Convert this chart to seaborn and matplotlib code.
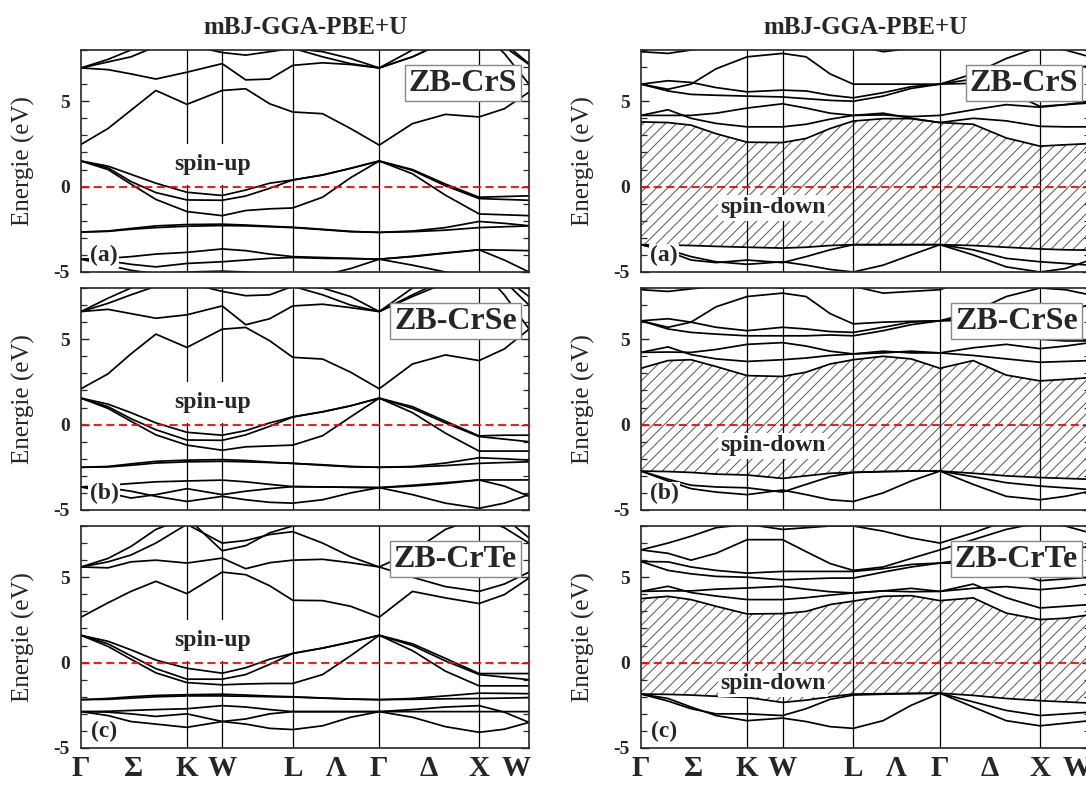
import matplotlib
matplotlib.use("Agg")
import matplotlib.pyplot as plt
from matplotlib.ticker import MultipleLocator
import numpy as np
import pandas as pd
import seaborn as sns

# ---------------- data ----------------
K_GRID = [0.0, 0.27, 0.50, 0.75, 1.0607, 1.4142, 1.65, 1.89, 2.1213,
          2.42, 2.70, 2.9873, 3.32, 3.65, 3.9873, 4.24, 4.4873]
K_END = 4.4873
HSYM_POS = [1.0607, 1.4142, 2.1213, 2.9873, 3.9873]
TICK_POS = [0.0, 0.53, 1.0607, 1.4142, 2.1213, 2.554, 2.9873, 3.487, 3.9873, 4.36]
TICK_LABELS = ['Γ', 'Σ', 'K', 'W', 'L', 'Λ', 'Γ', 'Δ', 'X', 'W']
COMPOUNDS = ['ZB-CrS', 'ZB-CrSe', 'ZB-CrTe']
TAGS = ['(a)', '(b)', '(c)']
TITLE = 'mBJ-GGA-PBE+U'

CRS_UP = [
    [-4.25, -4.2, -4.1, -3.95, -3.85, -3.65, -3.75, -3.95, -4.1, -4.15, -4.2, -4.25, -4.08, -3.88, -3.7, -3.72, -3.75],
    [-4.25, -4.35, -4.55, -4.7, -4.5, -4.4, -4.3, -4.2, -4.15, -4.2, -4.22, -4.25, -4.1, -3.9, -3.7, -4.3, -5.0],
    [-4.25, -4.6, -4.9, -5.1, -5.0, -4.95, -5.0, -5.1, -5.2, -5.2, -4.8, -4.25, -4.6, -5.0, -5.3, -5.2, -5.0],
    [-2.66, -2.6, -2.45, -2.3, -2.22, -2.2, -2.25, -2.32, -2.38, -2.5, -2.62, -2.68, -2.6, -2.4, -2.04, -2.15, -2.29],
    [-2.66, -2.62, -2.5, -2.4, -2.32, -2.28, -2.3, -2.35, -2.4, -2.52, -2.64, -2.68, -2.64, -2.55, -2.4, -2.35, -2.3],
    [1.5, 1.2, 0.72, 0.2, -0.33, -0.52, -0.2, 0.2, 0.39, 0.68, 1.07, 1.5, 1.0, 0.15, -0.62, -0.58, -0.54],
    [1.5, 1.1, 0.3, -0.35, -0.78, -0.8, -0.55, -0.1, 0.39, 0.68, 1.07, 1.5, 0.95, 0.05, -0.7, -0.75, -0.8],
    [1.5, 1.0, 0.15, -0.75, -1.46, -1.7, -1.4, -1.3, -1.25, -0.62, 0.52, 1.5, 0.75, -0.5, -1.6, -1.65, -1.7],
    [2.47, 3.4, 4.47, 5.63, 4.82, 5.63, 5.73, 4.85, 4.37, 4.27, 3.4, 2.43, 3.69, 4.23, 4.08, 4.56, 5.53],
    [6.95, 6.85, 6.6, 6.3, 6.7, 7.2, 6.25, 6.3, 7.1, 7.25, 7.15, 6.95, 7.6, 8.5, 9.0, 8.4, 7.2],
    [6.95, 7.3, 7.6, 8.2, 8.3, 7.85, 7.7, 7.9, 8.1, 7.6, 7.2, 6.95, 7.6, 8.5, 9.0, 8.2, 7.15],
    [6.95, 7.45, 8.0, 8.6, 9.0, 9.0, 9.0, 8.6, 8.1, 7.9, 7.5, 6.95, 8.0, 8.8, 9.2, 7.8, 6.0],
]

CRSE_UP = [
    [-3.65, -3.55, -3.45, -3.35, -3.3, -3.25, -3.35, -3.5, -3.63, -3.65, -3.67, -3.69, -3.55, -3.4, -3.24, -3.24, -3.24],
    [-3.65, -3.7, -3.9, -4.2, -4.5, -4.2, -4.4, -4.55, -4.6, -4.4, -4.0, -3.69, -4.1, -4.6, -4.9, -4.6, -4.1],
    [-3.65, -4.0, -4.3, -4.1, -3.75, -4.1, -3.9, -3.75, -3.63, -3.65, -3.67, -3.69, -3.6, -3.45, -3.24, -3.6, -4.2],
    [-2.5, -2.45, -2.3, -2.15, -2.08, -2.05, -2.1, -2.2, -2.27, -2.35, -2.45, -2.5, -2.45, -2.25, -1.94, -2.0, -2.08],
    [-2.5, -2.48, -2.38, -2.25, -2.18, -2.15, -2.18, -2.22, -2.27, -2.38, -2.47, -2.5, -2.48, -2.4, -2.27, -2.22, -2.18],
    [1.55, 1.2, 0.7, 0.1, -0.45, -0.62, -0.35, 0.1, 0.45, 0.75, 1.1, 1.55, 1.05, 0.2, -0.66, -0.62, -0.62],
    [1.55, 1.05, 0.35, -0.3, -0.9, -0.92, -0.6, -0.1, 0.45, 0.75, 1.1, 1.55, 0.95, 0.1, -0.7, -0.85, -1.0],
    [1.55, 0.95, 0.2, -0.6, -1.2, -1.5, -1.3, -1.25, -1.2, -0.65, 0.45, 1.55, 0.7, -0.5, -1.55, -1.55, -1.55],
    [2.1, 2.97, 4.14, 5.3, 4.52, 5.59, 5.69, 4.91, 3.94, 3.84, 3.07, 2.1, 3.55, 4.08, 3.75, 4.43, 5.59],
    [6.62, 6.75, 6.5, 6.23, 6.43, 6.95, 5.85, 6.2, 6.95, 7.05, 6.85, 6.62, 7.6, 8.5, 9.0, 8.4, 7.0],
    [6.62, 7.1, 7.6, 8.1, 8.3, 7.8, 7.55, 7.6, 8.1, 7.6, 7.0, 6.62, 7.5, 8.3, 9.0, 8.6, 7.5],
    [6.62, 7.4, 8.0, 8.6, 9.0, 9.0, 9.0, 8.6, 8.2, 8.0, 7.5, 6.62, 8.0, 8.8, 9.2, 7.6, 5.6],
]

CRTE_UP = [
    [-2.87, -2.85, -2.8, -2.75, -2.7, -2.52, -2.6, -2.75, -2.87, -2.87, -2.87, -2.87, -2.75, -2.6, -2.52, -2.9, -3.5],
    [-2.87, -2.9, -3.0, -3.15, -3.0, -3.45, -3.3, -3.0, -2.87, -2.87, -2.87, -2.87, -2.87, -2.87, -2.87, -2.87, -2.87],
    [-2.87, -3.1, -3.45, -3.6, -3.79, -3.45, -3.6, -3.85, -3.92, -3.7, -3.2, -2.87, -3.2, -3.75, -4.08, -3.9, -3.5],
    [-2.17, -2.1, -2.0, -1.92, -1.88, -1.85, -1.9, -1.96, -2.0, -2.07, -2.13, -2.17, -2.1, -1.95, -1.79, -1.8, -1.82],
    [-2.17, -2.15, -2.08, -2.0, -1.95, -1.95, -1.97, -2.0, -2.02, -2.08, -2.14, -2.17, -2.15, -2.12, -2.1, -2.08, -2.05],
    [1.6, 1.25, 0.75, 0.15, -0.33, -0.62, -0.3, 0.2, 0.54, 0.85, 1.2, 1.6, 1.1, 0.25, -0.64, -0.64, -0.64],
    [1.6, 1.1, 0.4, -0.35, -0.97, -0.97, -0.7, -0.1, 0.54, 0.85, 1.2, 1.6, 1.0, 0.1, -0.7, -0.85, -1.0],
    [1.6, 0.95, 0.2, -0.6, -1.17, -1.3, -1.25, -1.22, -1.22, -0.7, 0.4, 1.6, 0.7, -0.5, -1.36, -1.36, -1.36],
    [2.66, 3.5, 4.17, 4.76, 4.04, 5.3, 5.15, 4.5, 3.65, 3.63, 3.3, 2.66, 4.17, 3.79, 3.46, 3.98, 4.95],
    [5.6, 5.55, 5.9, 6.0, 5.83, 6.12, 5.5, 5.85, 6.0, 6.05, 5.85, 5.6, 5.0, 4.45, 4.17, 4.6, 5.3],
    [5.6, 5.9, 6.3, 7.0, 8.1, 7.0, 7.15, 7.5, 7.67, 7.0, 6.2, 5.6, 6.5, 7.8, 8.5, 7.9, 7.0],
    [5.6, 6.1, 6.8, 7.8, 8.5, 6.55, 6.85, 7.6, 8.0, 8.3, 8.6, 8.8, 8.6, 8.5, 9.0, 8.5, 7.3],
]

# spin-down: valence-band maximum and conduction-band minimum bound the gap
CRS_DN_VBM = [-3.4, -3.42, -3.45, -3.5, -3.55, -3.6, -3.55, -3.45, -3.4, -3.4, -3.4, -3.4, -3.45, -3.55, -3.65, -3.7, -3.72]
CRS_DN_CBM = [3.79, 3.75, 3.6, 3.1, 2.6, 2.58, 2.82, 3.4, 3.84, 3.98, 3.98, 3.75, 3.65, 2.85, 2.37, 2.45, 2.52]
CRS_DN = [
    [-3.4, -3.7, -4.1, -4.4, -4.55, -4.4, -4.6, -4.85, -5.0, -4.6, -4.0, -3.4, -4.0, -4.7, -5.0, -4.8, -4.3],
    [-3.4, -3.8, -4.3, -4.45, -4.3, -4.45, -4.1, -3.7, -3.4, -3.4, -3.4, -3.4, -3.7, -4.2, -4.4, -4.5, -4.6],
    [4.17, 4.5, 4.0, 3.7, 3.5, 3.5, 3.65, 3.95, 4.17, 4.3, 4.0, 3.75, 4.0, 3.85, 3.53, 3.5, 3.5],
    [4.17, 4.17, 4.17, 4.3, 4.6, 4.85, 4.6, 4.3, 4.17, 4.2, 4.1, 4.17, 4.5, 4.8, 4.65, 4.8, 5.0],
    [6.0, 5.6, 5.4, 5.35, 5.3, 5.25, 5.15, 5.05, 5.0, 5.3, 5.75, 6.0, 6.05, 5.6, 4.7, 4.8, 4.9],
    [6.0, 6.2, 6.1, 5.8, 5.55, 5.65, 5.6, 5.35, 5.2, 5.5, 5.85, 6.0, 6.3, 6.7, 6.6, 6.8, 7.1],
    [6.0, 5.7, 6.0, 6.9, 7.6, 7.8, 7.6, 6.6, 6.0, 6.0, 6.0, 6.0, 6.6, 7.5, 8.2, 8.0, 7.6],
    [7.9, 7.8, 8.0, 8.2, 8.3, 8.1, 8.3, 8.5, 8.3, 7.9, 8.1, 8.4, 8.8, 9.0, 9.0, 8.5, 8.0],
]

CRSE_DN_VBM = [-2.72, -2.75, -2.8, -2.9, -2.95, -3.15, -3.0, -2.85, -2.8, -2.75, -2.72, -2.72, -2.85, -3.0, -3.1, -3.15, -3.2]
CRSE_DN_CBM = [3.3, 3.75, 3.8, 3.4, 2.87, 2.82, 3.07, 3.55, 3.8, 4.0, 3.85, 3.3, 3.75, 2.9, 2.56, 2.65, 2.75]
CRSE_DN = [
    [-2.72, -3.3, -3.75, -3.95, -4.1, -3.83, -4.1, -4.4, -4.5, -4.0, -3.3, -2.72, -3.5, -4.2, -4.4, -4.2, -3.9],
    [-2.72, -3.2, -3.55, -3.65, -3.7, -3.95, -3.5, -3.05, -2.8, -2.75, -2.72, -2.72, -3.05, -3.4, -3.6, -3.7, -3.8],
    [4.23, 4.55, 4.1, 3.85, 3.7, 3.8, 3.9, 4.05, 4.14, 4.3, 4.2, 4.2, 4.05, 3.85, 3.65, 3.7, 3.75],
    [4.23, 4.25, 4.23, 4.4, 4.7, 4.8, 4.6, 4.3, 4.14, 4.2, 4.3, 4.2, 4.5, 4.7, 4.45, 4.6, 4.8],
    [6.08, 5.6, 5.4, 5.3, 5.2, 5.2, 5.2, 5.25, 5.2, 5.5, 5.85, 6.08, 6.1, 5.7, 5.0, 4.9, 4.9],
    [6.08, 6.2, 6.0, 5.7, 5.5, 5.7, 5.6, 5.45, 5.4, 5.7, 6.0, 6.08, 6.3, 6.6, 6.5, 6.7, 7.0],
    [6.08, 5.7, 6.0, 6.9, 7.5, 7.7, 7.5, 6.5, 5.9, 6.0, 6.05, 6.08, 6.6, 7.5, 8.0, 7.9, 7.6],
    [7.9, 7.8, 7.95, 8.1, 8.2, 8.0, 8.2, 8.4, 8.1, 7.7, 7.8, 7.9, 8.6, 8.9, 9.0, 8.6, 8.0],
]

CRTE_DN_VBM = [-1.84, -1.86, -1.9, -1.97, -2.04, -2.33, -2.2, -2.0, -1.84, -1.82, -1.8, -1.79, -1.92, -2.1, -2.23, -2.3, -2.37]
CRTE_DN_CBM = [3.75, 3.88, 3.69, 3.3, 2.85, 2.87, 3.0, 3.4, 3.6, 3.88, 3.92, 3.63, 3.79, 2.9, 2.52, 2.6, 2.8]
CRTE_DN = [
    [-1.84, -2.25, -2.7, -3.0, -3.0, -3.1, -2.7, -2.15, -1.9, -1.85, -1.82, -1.79, -2.3, -2.8, -3.1, -3.0, -2.9],
    [-1.84, -2.1, -2.6, -3.1, -3.4, -3.25, -3.45, -3.75, -3.85, -3.4, -2.5, -1.79, -2.6, -3.4, -3.7, -3.55, -3.4],
    [4.17, 4.47, 4.1, 3.9, 3.69, 3.69, 3.8, 3.95, 4.08, 4.2, 4.35, 4.17, 4.6, 3.8, 3.2, 3.3, 3.4],
    [4.17, 4.2, 4.2, 4.3, 4.37, 4.47, 4.3, 4.15, 4.08, 4.2, 4.15, 4.17, 4.35, 4.45, 4.27, 4.4, 4.6],
    [5.92, 5.4, 5.2, 5.05, 5.0, 4.85, 4.9, 4.95, 4.95, 5.3, 5.6, 5.83, 5.8, 5.4, 4.8, 4.9, 5.0],
    [5.92, 5.9, 5.6, 5.4, 5.24, 5.34, 5.34, 5.34, 5.34, 5.5, 5.75, 5.83, 6.1, 6.4, 6.5, 6.6, 6.8],
    [6.6, 6.4, 6.0, 6.4, 7.2, 7.2, 6.5, 5.8, 5.4, 5.6, 6.1, 6.6, 7.2, 7.8, 8.2, 8.0, 7.6],
    [6.6, 7.0, 7.4, 7.9, 8.1, 7.8, 7.9, 8.0, 8.0, 7.7, 7.3, 7.0, 7.6, 8.3, 8.8, 8.5, 8.0],
]

# ---------------- style ----------------
sns.set_style("ticks")
plt.rcParams['font.family'] = ['Liberation Serif', 'DejaVu Serif']
plt.rcParams['hatch.linewidth'] = 0.7
plt.rcParams['hatch.color'] = '#555555'

fig = plt.figure(figsize=(10.86, 7.85), dpi=100)

LEFT_X0, LEFT_W = 81 / 1086, 448 / 1086
RIGHT_X0, RIGHT_W = 641 / 1086, 449 / 1086
ROW_TOPS = [50, 288, 526]
PANEL_H = 222


def make_ax(x0, w, top):
    return fig.add_axes([x0, 1 - (top + PANEL_H) / 785, w, PANEL_H / 785])


def draw_panel(ax, bands, spin, compound, tag, bottom_row, vbm=None, cbm=None):
    all_bands = list(bands)
    if vbm is not None:
        all_bands = [vbm, cbm] + all_bands
        ax.fill_between(K_GRID, vbm, cbm, facecolor='none', edgecolor='#555555',
                        hatch='///', linewidth=0, zorder=1)
    rows = []
    for i, b in enumerate(all_bands):
        for k, e in zip(K_GRID, b):
            rows.append((i, k, e))
    df = pd.DataFrame(rows, columns=['band', 'k', 'E'])
    sns.lineplot(data=df, x='k', y='E', units='band', estimator=None, sort=False,
                 color='black', linewidth=1.25, ax=ax, legend=False, zorder=2)
    for x in HSYM_POS:
        ax.axvline(x, color='black', lw=0.9, zorder=1.5)
    ax.axhline(0, color='red', lw=1.3, dashes=(4.5, 2.5), zorder=3)

    ax.set_xlim(0, K_END)
    ax.set_ylim(-5, 8)
    ax.set_yticks([-5, 0, 5])
    ax.set_yticklabels(['-5', '0', '5'], fontsize=14, fontweight='bold')
    ax.yaxis.set_minor_locator(MultipleLocator(1))
    ax.tick_params(axis='y', which='both', direction='in', left=True, right=True, pad=8)
    ax.tick_params(axis='y', which='major', length=6, width=1.0)
    ax.tick_params(axis='y', which='minor', length=4, width=0.9)
    ax.set_xticks(TICK_POS)
    if bottom_row:
        ax.set_xticklabels(TICK_LABELS, fontsize=21, fontweight='bold')
    else:
        ax.set_xticklabels([])
    ax.tick_params(axis='x', length=0, pad=5)
    ax.set_xlabel('')
    ax.set_ylabel('Energie (eV)', fontsize=18)
    ax.yaxis.set_label_coords(-0.103, 0.5)
    for s in ax.spines.values():
        s.set_linewidth(1.2)

    ax.text(0.973, 0.851, compound, transform=ax.transAxes, ha='right', va='center',
            fontsize=23, fontweight='bold', zorder=6,
            bbox=dict(boxstyle='square,pad=0.12', fc='white', ec='#888888', lw=1.0))
    ax.text(0.23, -4.06, tag, ha='center', va='center', fontsize=17, fontweight='bold',
            zorder=6, bbox=dict(boxstyle='square,pad=0.05', fc='white', ec='none'))
    if spin == 'up':
        ax.text(1.32, 1.3, 'spin-up', ha='center', va='center', fontsize=17,
                fontweight='bold', zorder=6,
                bbox=dict(boxstyle='square,pad=0.42', fc='white', ec='none'))
    else:
        ax.text(1.32, -1.25, 'spin-down', ha='center', va='center', fontsize=17,
                fontweight='bold', zorder=6,
                bbox=dict(boxstyle='square,pad=0.1', fc='white', ec='none'))


UP = [CRS_UP, CRSE_UP, CRTE_UP]
DN = [CRS_DN, CRSE_DN, CRTE_DN]
DN_VBM = [CRS_DN_VBM, CRSE_DN_VBM, CRTE_DN_VBM]
DN_CBM = [CRS_DN_CBM, CRSE_DN_CBM, CRTE_DN_CBM]

for r in range(3):
    axl = make_ax(LEFT_X0, LEFT_W, ROW_TOPS[r])
    draw_panel(axl, UP[r], 'up', COMPOUNDS[r], TAGS[r], r == 2)
    axr = make_ax(RIGHT_X0, RIGHT_W, ROW_TOPS[r])
    draw_panel(axr, DN[r], 'down', COMPOUNDS[r], TAGS[r], r == 2,
               vbm=DN_VBM[r], cbm=DN_CBM[r])
    if r == 0:
        for x0, w in [(LEFT_X0, LEFT_W), (RIGHT_X0, RIGHT_W)]:
            fig.text(x0 + w / 2, 1 - 28 / 785, TITLE, ha='center', va='center',
                     fontsize=18, fontweight='bold')

fig.savefig('out.png', dpi=100)
